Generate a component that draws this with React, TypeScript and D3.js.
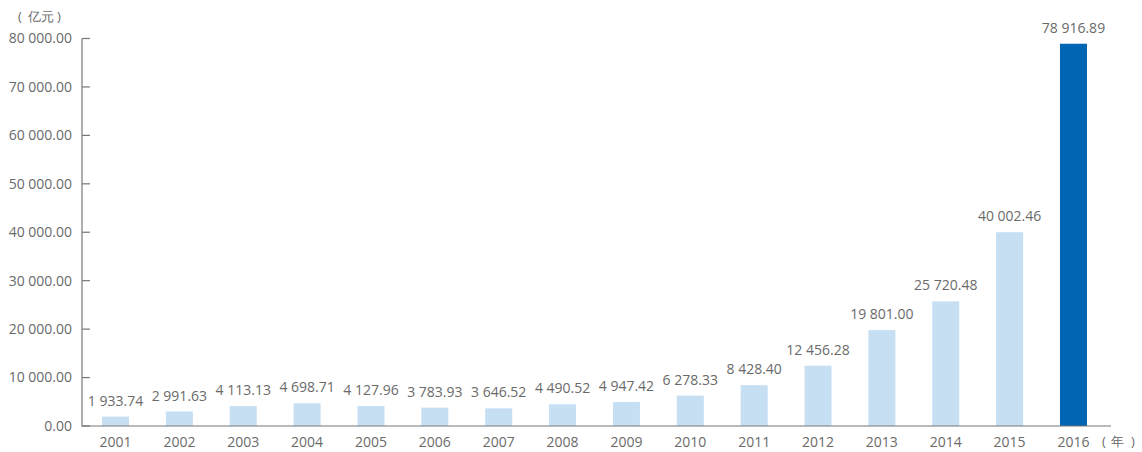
import React from "react";
import * as d3 from "d3";

const years = ["2001","2002","2003","2004","2005","2006","2007","2008","2009","2010","2011","2012","2013","2014","2015","2016"];
const values = [1933.74, 2991.63, 4113.13, 4698.71, 4127.96, 3783.93, 3646.52, 4490.52, 4947.42, 6278.33, 8428.40, 12456.28, 19801.00, 25720.48, 40002.46, 78916.89];
const yTicks = [0, 10000, 20000, 30000, 40000, 50000, 60000, 70000, 80000];
const yUnit = "亿元";
const xUnit = "年";

const W = 1142, H = 452;
const fmt = (v: number) => d3.format(",.2f")(v).replace(/,/g, " ");

export default function App() {
  const x = d3.scaleBand<string>().domain(years).range([83.6, 1105.4]).paddingInner(0.577).paddingOuter(0.2885);
  const y = d3.scaleLinear().domain([0, 80000]).range([426, 38.5]);
  const text = "#6a6a6a";
  const axis = "#777";
  const font = "'Open Sans', sans-serif";
  return (
    <svg width={W} height={H} style={{ position: "absolute", left: 0, top: 0 }} fontFamily={font}>
      <text y={21} fontSize={13} fill={text}>
        <tspan x={18}>(</tspan>
        <tspan x={28}>{yUnit}</tspan>
        <tspan x={57}>)</tspan>
      </text>
      {yTicks.map(t => (
        <g key={t}>
          <line x1={82} x2={90} y1={y(t)} y2={y(t)} stroke={axis} strokeWidth={1.2} />
          <text x={72} y={y(t)} dy="0.35em" textAnchor="end" fontSize={14} fill={text}>{fmt(t)}</text>
        </g>
      ))}
      {years.map((yr, i) => {
        const v = values[i];
        const bx = x(yr)!;
        const last = i === years.length - 1;
        return (
          <g key={yr}>
            <rect x={bx} y={y(v)} width={x.bandwidth()} height={426 - y(v)} fill={last ? "#0066B3" : "#C7DFF3"} />
            <text x={bx + x.bandwidth() / 2} y={y(v) - 11} textAnchor="middle" fontSize={14} fill={text}>{fmt(v)}</text>
            <text x={bx + x.bandwidth() / 2} y={447} textAnchor="middle" fontSize={14} fill={text}>{yr}</text>
          </g>
        );
      })}
      <line x1={82} x2={82} y1={38.5} y2={426.5} stroke={axis} strokeWidth={1.2} />
      <line x1={82} x2={1111} y1={426} y2={426} stroke={axis} strokeWidth={1.2} />
      <text y={446} fontSize={13} fill={text}>
        <tspan x={1102}>(</tspan>
        <tspan x={1111}>{xUnit}</tspan>
        <tspan x={1131}>)</tspan>
      </text>
    </svg>
  );
}
